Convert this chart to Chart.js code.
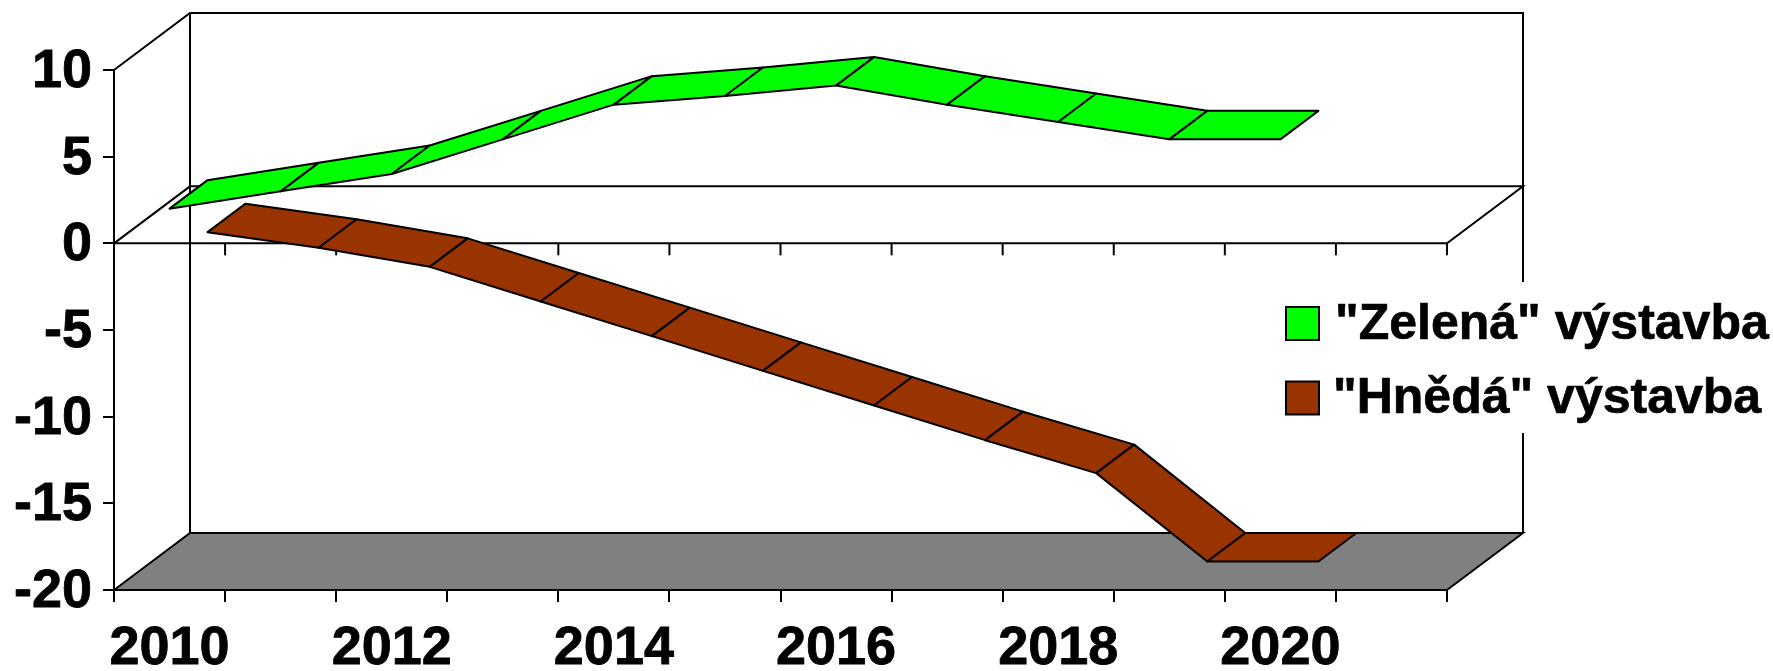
<!DOCTYPE html>
<html>
<head>
<meta charset="utf-8">
<title>Výstavba</title>
<script src="https://cdn.jsdelivr.net/npm/chart.js@4"></script>
<style>
    html, body { margin: 0; padding: 0; background: #ffffff; }
    canvas { display: block; }
</style>
</head>
<body>
<canvas id="chart" width="1773" height="671"></canvas>
<script>
const years = ['2010', '2011', '2012', '2013', '2014', '2015', '2016', '2017', '2018', '2019', '2020', '2021'];
const greenValues = [2, 3, 4, 6, 8, 8.5, 9.1, 8, 7, 6, 6];
const brownValues = [-1, -1.9, -3, -5, -7, -9, -11, -13, -14.9, -20, -20];

const FONT = '"Liberation Sans", Arial, sans-serif';
const LINE = '#000000';
const LINE_W = 2;
// how far the back wall sits from the front plane, in pixels
const DEPTH_X = 76;
const DEPTH_Y = -57;

function segment(ctx, points, width) {
    ctx.beginPath();
    ctx.moveTo(points[0], points[1]);
    for (let i = 2; i < points.length; i += 2) ctx.lineTo(points[i], points[i + 1]);
    ctx.lineWidth = width;
    ctx.strokeStyle = LINE;
    ctx.stroke();
}

// Walls, floor and the zero plane of the fake 3D box
const boxPlugin = {
    id: 'box3d',
    beforeDraw(chart) {
        const ctx = chart.ctx;
        const { left, right, top, bottom } = chart.chartArea;
        const y0 = chart.scales.y.getPixelForValue(0);
        const bandW = (right - left) / years.length;
        ctx.save();

        ctx.beginPath();
        ctx.moveTo(left, bottom);
        ctx.lineTo(left + DEPTH_X, bottom + DEPTH_Y);
        ctx.lineTo(right + DEPTH_X, bottom + DEPTH_Y);
        ctx.lineTo(right, bottom);
        ctx.closePath();
        ctx.fillStyle = '#808080';
        ctx.fill();

        segment(ctx, [left, bottom, left + DEPTH_X, bottom + DEPTH_Y, right + DEPTH_X, bottom + DEPTH_Y, right, bottom], LINE_W);
        segment(ctx, [left, top, left + DEPTH_X, top + DEPTH_Y, right + DEPTH_X, top + DEPTH_Y, right + DEPTH_X, bottom + DEPTH_Y], LINE_W);
        segment(ctx, [left + DEPTH_X, top + DEPTH_Y, left + DEPTH_X, bottom + DEPTH_Y], LINE_W);

        // zero plane
        segment(ctx, [left, y0, left + DEPTH_X, y0 + DEPTH_Y, right + DEPTH_X, y0 + DEPTH_Y, right, y0, left, y0], LINE_W);
        for (let i = 1; i <= years.length; i++) {
            const x = left + i * bandW;
            segment(ctx, [x, y0, x, y0 + 12], LINE_W);
        }

        // legend sits on a white box that hides part of the right wall
        ctx.fillStyle = '#ffffff';
        ctx.fillRect(1270, 282, 503, 151);
        ctx.restore();
    }
};

// Draws each series as a ribbon, one parallelogram per category step
const ribbonPlugin = {
    id: 'ribbons',
    afterDatasetsDraw(chart) {
        const ctx = chart.ctx;
        ctx.save();
        ctx.lineJoin = 'round';
        for (let d = chart.data.datasets.length - 1; d >= 0; d--) {
            const ds = chart.data.datasets[d];
            const pts = chart.getDatasetMeta(d).data;
            const dx0 = DEPTH_X * d / 2, dy0 = DEPTH_Y * d / 2;
            const dx1 = DEPTH_X * (d + 1) / 2, dy1 = DEPTH_Y * (d + 1) / 2;
            for (let i = 0; i < pts.length - 1; i++) {
                const a = pts[i], b = pts[i + 1];
                ctx.beginPath();
                ctx.moveTo(a.x + dx0, a.y + dy0);
                ctx.lineTo(b.x + dx0, b.y + dy0);
                ctx.lineTo(b.x + dx1, b.y + dy1);
                ctx.lineTo(a.x + dx1, a.y + dy1);
                ctx.closePath();
                ctx.fillStyle = ds.backgroundColor;
                ctx.fill();
                ctx.lineWidth = LINE_W;
                ctx.strokeStyle = LINE;
                ctx.stroke();
            }
        }
        ctx.restore();
    }
};

const legendPlugin = {
    id: 'sideLegend',
    afterDraw(chart) {
        const ctx = chart.ctx;
        ctx.save();
        ctx.font = 'bold 50px ' + FONT;
        ctx.textBaseline = 'middle';
        chart.data.datasets.forEach((ds, i) => {
            const y = 307 + i * 74.5;
            ctx.fillStyle = ds.backgroundColor;
            ctx.fillRect(1286, y, 33, 33);
            ctx.lineWidth = LINE_W;
            ctx.strokeStyle = LINE;
            ctx.strokeRect(1286, y, 33, 33);
            ctx.fillStyle = LINE;
            ctx.lineWidth = 0.7;
            ctx.fillText(ds.label, 1335 - i * 2, y + 18);
            ctx.strokeText(ds.label, 1335 - i * 2, y + 18);
        });
        ctx.restore();
    }
};

new Chart(document.getElementById('chart'), {
    type: 'line',
    data: {
        labels: years,
        datasets: [
            { label: '"Zelená" výstavba', data: greenValues, backgroundColor: '#00ff00', borderColor: '#000000', showLine: false, pointRadius: 0 },
            { label: '"Hnědá" výstavba', data: brownValues, backgroundColor: '#993300', borderColor: '#000000', showLine: false, pointRadius: 0 },
        ]
    },
    plugins: [boxPlugin, ribbonPlugin, legendPlugin],
    options: {
        responsive: false,
        animation: false,
        layout: { padding: { left: 0, top: 70, right: 326, bottom: 0 } },
        plugins: {
            legend: { display: false },
            tooltip: { enabled: false }
        },
        scales: {
            x: {
                offset: true,
                afterFit: scale => { scale.height = 81; },
                grid: { offset: true, drawOnChartArea: false, color: LINE, lineWidth: LINE_W, tickLength: 12 },
                border: { display: true, color: LINE, width: LINE_W },
                ticks: {
                    autoSkip: false,
                    maxRotation: 0,
                    padding: 15,
                    color: LINE,
                    textStrokeColor: LINE,
                    textStrokeWidth: 0.8,
                    font: { family: FONT, size: 54, weight: 'bold' },
                    callback(value, index) { return index % 2 === 0 ? years[index] : ''; }
                }
            },
            y: {
                min: -20,
                max: 10,
                afterFit: scale => { scale.width = 114; },
                grid: { drawOnChartArea: false, color: LINE, lineWidth: LINE_W, tickLength: 11 },
                border: { display: true, color: LINE, width: LINE_W },
                ticks: {
                    stepSize: 5,
                    padding: 11,
                    labelOffset: 2,
                    color: LINE,
                    textStrokeColor: LINE,
                    textStrokeWidth: 0.8,
                    font: { family: FONT, size: 54, weight: 'bold' }
                }
            }
        }
    }
});
</script>
</body>
</html>
